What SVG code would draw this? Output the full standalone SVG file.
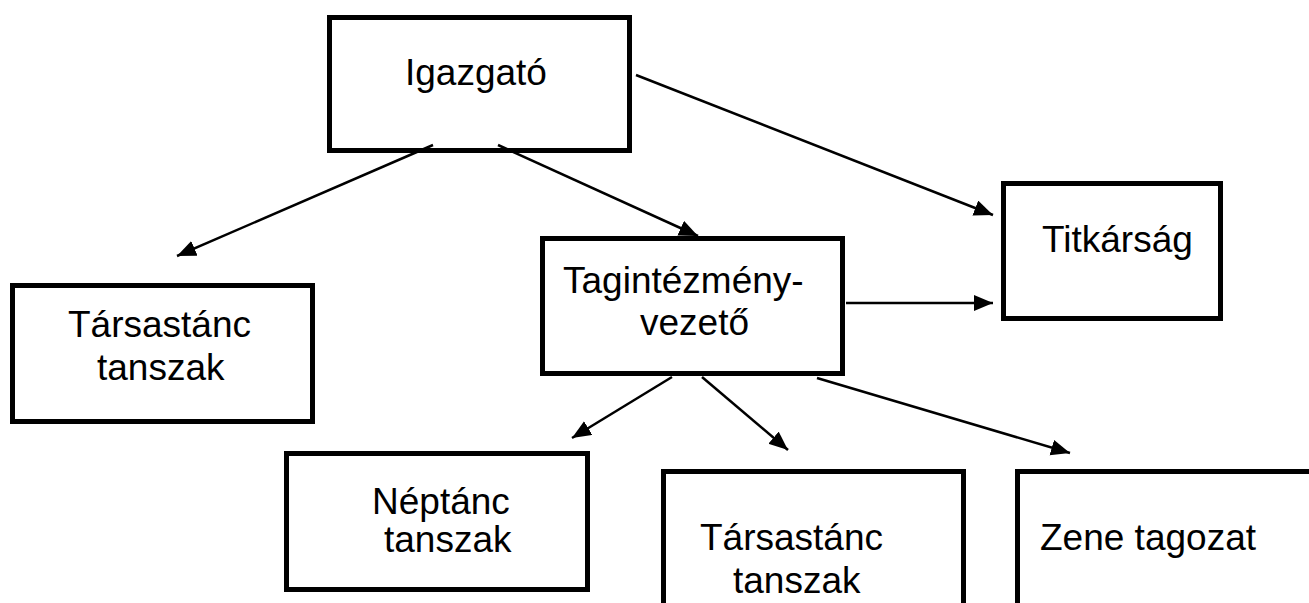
<svg xmlns="http://www.w3.org/2000/svg" width="1309" height="603" viewBox="0 0 1309 603">
<style>
.box{fill:#fff;stroke:#000;stroke-width:5}
.lbl{font-family:"Liberation Sans",Arial,sans-serif;font-size:37px;fill:#000}
.conn{stroke:#000;stroke-width:2.5;fill:none;marker-end:url(#ah)}
</style>
<defs>
<marker id="ah" markerUnits="userSpaceOnUse" markerWidth="22" markerHeight="18" refX="19" refY="8" orient="auto">
<path d="M0,0 L19,8 L0,16 z" fill="#000"/>
</marker>
</defs>
<rect width="1309" height="603" fill="#fff"/>
<g id="n-igazgato">
<rect class="box" x="329.5" y="17.5" width="300" height="133"/>
<text class="lbl" x="405" y="85">Igazgató</text>
</g>
<g id="n-tarsastanc1">
<rect class="box" x="12.5" y="285.5" width="300" height="136"/>
<text class="lbl" x="68" y="337">Társastánc</text>
<text class="lbl" x="97" y="380">tanszak</text>
</g>
<g id="n-tagintezmeny">
<rect class="box" x="542.5" y="238.5" width="300" height="135"/>
<text class="lbl" x="563" y="293">Tagintézmény-</text>
<text class="lbl" x="640" y="335">vezető</text>
</g>
<g id="n-titkarsag">
<rect class="box" x="1003.5" y="183.5" width="217" height="135"/>
<text class="lbl" x="1042" y="252">Titkárság</text>
</g>
<g id="n-neptanc">
<rect class="box" x="286.5" y="453.5" width="301" height="136"/>
<text class="lbl" x="372" y="514">Néptánc</text>
<text class="lbl" x="384" y="552">tanszak</text>
</g>
<g id="n-tarsastanc2">
<rect class="box" x="663.5" y="471.5" width="300" height="150"/>
<text class="lbl" x="700" y="550">Társastánc</text>
<text class="lbl" x="733" y="593">tanszak</text>
</g>
<g id="n-zene">
<rect class="box" x="1017.5" y="471.5" width="320" height="150"/>
<text class="lbl" x="1040" y="550">Zene tagozat</text>
</g>
<g id="connectors">
<line class="conn" x1="433" y1="145" x2="177" y2="256"/>
<line class="conn" x1="498" y1="145" x2="698" y2="236"/>
<line class="conn" x1="636" y1="75" x2="993" y2="215"/>
<line class="conn" x1="846" y1="303" x2="993" y2="303"/>
<line class="conn" x1="672" y1="377" x2="572" y2="438"/>
<line class="conn" x1="702" y1="377" x2="788" y2="450"/>
<line class="conn" x1="817" y1="378" x2="1070" y2="453"/>
</g>
</svg>
